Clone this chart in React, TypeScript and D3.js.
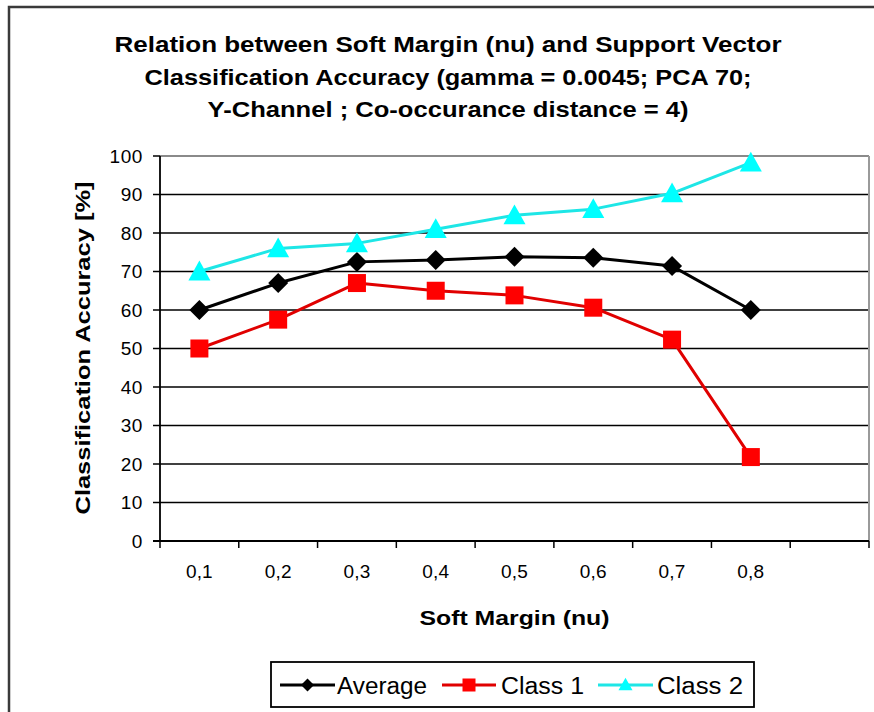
import React from "react";
import * as d3 from "d3";

const titleLines = [
  "Relation between Soft Margin (nu) and Support Vector",
  "Classification Accuracy (gamma = 0.0045; PCA 70;",
  "Y-Channel ; Co-occurance distance = 4)",
];
const categories = ["0,1", "0,2", "0,3", "0,4", "0,5", "0,6", "0,7", "0,8"];
const average = [60, 67, 72.5, 73, 73.8, 73.6, 71.4, 60];
const class1 = [50, 57.5, 67, 65, 63.8, 60.6, 52.3, 21.8];
const class2 = [70, 76, 77.3, 81, 84.6, 86.2, 90.3, 98.3];
const yTicks = [0, 10, 20, 30, 40, 50, 60, 70, 80, 90, 100];
const seriesNames = ["Average", "Class 1", "Class 2"];

const FONT = "'Liberation Sans', Arial, sans-serif";

const W = 874;
const H = 712;
const plot = { left: 160, right: 869, top: 156, bottom: 541 };

type Shape = "diamond" | "square" | "triangle";

function Marker({ x, y, shape, color, s }: { x: number; y: number; shape: Shape; color: string; s: number }) {
  if (shape === "diamond") {
    const h = s / 2;
    return <path d={`M${x},${y - h}L${x + h},${y}L${x},${y + h}L${x - h},${y}Z`} fill={color} />;
  }
  if (shape === "square") {
    return <rect x={x - s / 2} y={y - s / 2} width={s} height={s} fill={color} />;
  }
  const h = s * 0.9;
  return <path d={`M${x},${y - h / 2 - 1}L${x + s / 2},${y + h / 2 - 1}L${x - s / 2},${y + h / 2 - 1}Z`} fill={color} />;
}

export default function App() {
  const x = d3
    .scaleBand<string>()
    .domain([...categories, ""])
    .range([plot.left, plot.right])
    .paddingInner(0)
    .paddingOuter(0);
  const y = d3.scaleLinear().domain([0, 100]).range([plot.bottom, plot.top]);
  const bw = x.bandwidth();
  const cx = (c: string) => (x(c) as number) + bw / 2;

  const line = d3
    .line<number>()
    .x((_, i) => cx(categories[i]))
    .y((d) => y(d));

  const series = [
    { name: seriesNames[0], data: average, line: "#000000", fill: "#000000", shape: "diamond" as Shape, size: 20 },
    { name: seriesNames[1], data: class1, line: "#e00000", fill: "#ff0000", shape: "square" as Shape, size: 18 },
    { name: seriesNames[2], data: class2, line: "#1ee6e6", fill: "#00ffff", shape: "triangle" as Shape, size: 22 },
  ];

  const boundaries = d3.range(0, categories.length + 2).map((i) => plot.left + i * bw);

  const titleLens = [667, 607, 481];
  const legendItems = [
    { lx1: 280, lx2: 335, tx: 337, tl: 90 },
    { lx1: 442, lx2: 496, tx: 501, tl: 83 },
    { lx1: 598, lx2: 653, tx: 657, tl: 86 },
  ];

  return (
    <div style={{ position: "fixed", left: 0, top: 0, width: W, height: H, background: "#fff" }}>
      <svg width={W} height={H} style={{ display: "block" }} fontFamily={FONT}>
        <rect x={0} y={0} width={W} height={H} fill="#ffffff" />
        {/* outer chart border */}
        <rect x={9} y={7} width={W + 20} height={H + 20} fill="none" stroke="#3a3a3a" strokeWidth={2.5} />

        {/* title */}
        {titleLines.map((t, i) => (
          <text
            key={i}
            x={448}
            y={52 + i * 32.5}
            textAnchor="middle"
            fontSize={22}
            fontWeight="bold"
            fill="#000"
            textLength={titleLens[i]}
            lengthAdjust="spacingAndGlyphs"
          >
            {t}
          </text>
        ))}

        {/* gridlines */}
        {yTicks.filter((t) => t > 0 && t < 100).map((t) => (
          <line key={t} x1={plot.left} x2={plot.right} y1={y(t)} y2={y(t)} stroke="#000" strokeWidth={1.5} />
        ))}
        {/* plot border top & right */}
        <line x1={plot.left} x2={plot.right} y1={y(100)} y2={y(100)} stroke="#8a8a8a" strokeWidth={2} />
        <line x1={plot.right} x2={plot.right} y1={plot.top} y2={plot.bottom} stroke="#9a9a9a" strokeWidth={2} />

        {/* y axis */}
        <line x1={plot.left} x2={plot.left} y1={plot.top} y2={plot.bottom + 1} stroke="#000" strokeWidth={1.8} />
        {yTicks.map((t) => (
          <g key={t}>
            <line x1={plot.left - 7} x2={plot.left} y1={y(t)} y2={y(t)} stroke="#000" strokeWidth={1.5} />
            <text x={143} y={y(t)} dy="0.36em" textAnchor="end" fontSize={19} letterSpacing={0.6} fill="#000">
              {t}
            </text>
          </g>
        ))}

        {/* x axis */}
        <line x1={plot.left - 7} x2={plot.right} y1={plot.bottom} y2={plot.bottom} stroke="#000" strokeWidth={1.8} />
        {boundaries.map((b, i) => (
          <line key={i} x1={b} x2={b} y1={plot.bottom} y2={plot.bottom + 7} stroke="#000" strokeWidth={1.5} />
        ))}
        {categories.map((c) => (
          <text key={c} x={cx(c)} y={578} textAnchor="middle" fontSize={19} fill="#000" letterSpacing={0.2}>
            {c}
          </text>
        ))}

        {/* axis titles */}
        <text
          x={(plot.left + plot.right) / 2}
          y={625}
          textAnchor="middle"
          fontSize={21}
          fontWeight="bold"
          textLength={190}
          lengthAdjust="spacingAndGlyphs"
        >
          Soft Margin (nu)
        </text>
        <text
          transform={`translate(90, 348) rotate(-90)`}
          textAnchor="middle"
          fontSize={21}
          fontWeight="bold"
          textLength={333}
          lengthAdjust="spacingAndGlyphs"
        >
          Classification Accuracy [%]
        </text>

        {/* series */}
        {series.map((s) => (
          <g key={s.name}>
            <path d={line(s.data) || ""} fill="none" stroke={s.line} strokeWidth={3} strokeLinejoin="round" />
            {s.data.map((v, i) => (
              <Marker key={i} x={cx(categories[i])} y={y(v)} shape={s.shape} color={s.fill} s={s.size} />
            ))}
          </g>
        ))}

        {/* legend */}
        <rect x={271} y={662} width={483} height={45} fill="#fff" stroke="#000" strokeWidth={1.8} />
        {series.map((s, i) => {
          const it = legendItems[i];
          const ly = 685;
          return (
            <g key={s.name}>
              <line x1={it.lx1} x2={it.lx2} y1={ly} y2={ly} stroke={s.line} strokeWidth={3} />
              <Marker x={(it.lx1 + it.lx2) / 2} y={ly} shape={s.shape} color={s.fill} s={s.shape === "triangle" ? 14 : 13} />
              <text
                x={it.tx}
                y={694}
                fontSize={23}
                fill="#000"
                textLength={it.tl}
                lengthAdjust="spacingAndGlyphs"
              >
                {s.name}
              </text>
            </g>
          );
        })}
      </svg>
    </div>
  );
}
